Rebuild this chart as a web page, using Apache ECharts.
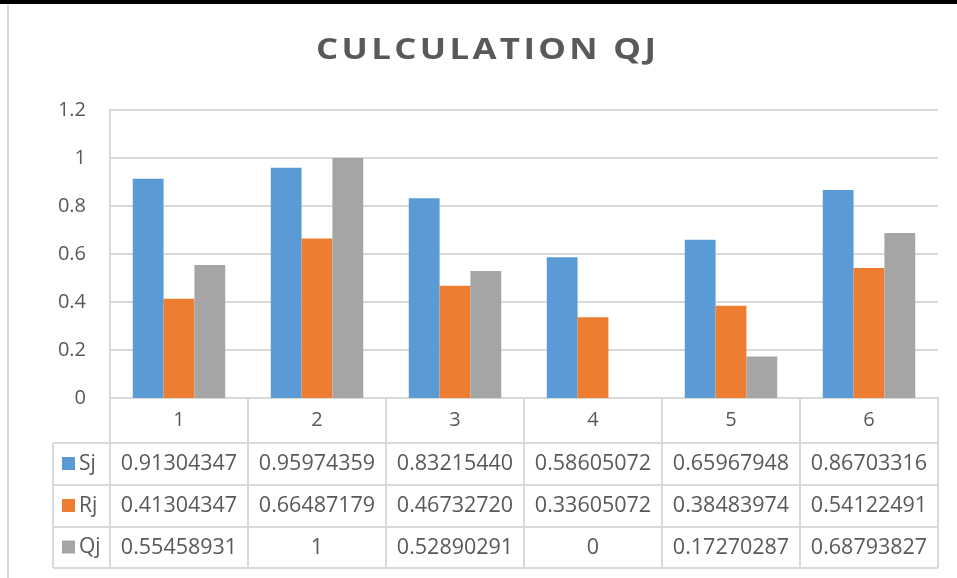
<!DOCTYPE html>
<html><head><meta charset="utf-8">
<script src="https://cdn.jsdelivr.net/npm/echarts@6/dist/echarts.min.js"></script>
<style>html,body{margin:0;padding:0;background:#fff}#c{width:957px;height:578px}</style>
</head><body><div id="c"></div>
<script>
const titleText = 'CULCULATION QJ';
const categories = ['1','2','3','4','5','6'];
const seriesNames = ['Sj','Rj','Qj'];
const sj = [0.91304347, 0.95974359, 0.83215440, 0.58605072, 0.65967948, 0.86703316];
const rj = [0.41304347, 0.66487179, 0.46732720, 0.33605072, 0.38483974, 0.54122491];
const qj = [0.55458931, 1, 0.52890291, 0, 0.17270287, 0.68793827];
const tableText = {
  Sj: ['0.91304347','0.95974359','0.83215440','0.58605072','0.65967948','0.86703316'],
  Rj: ['0.41304347','0.66487179','0.46732720','0.33605072','0.38483974','0.54122491'],
  Qj: ['0.55458931','1','0.52890291','0','0.17270287','0.68793827']
};
const colors = ['#5B9BD5','#ED7D31','#A5A5A5'];
const FONT = "'Open Sans', sans-serif";
const TXT = '#595959';
const LINE = '#d9d9d9';
// layout
const GL = 110, GR = 938, GT = 110, GB = 398;
const rowTops = [443, 485, 527, 568];
const keyLeft = 53;

const chart = echarts.init(document.getElementById('c'), null, {renderer:'canvas'});
const values = [sj, rj, qj];
chart.setOption({
  animation: false,
  backgroundColor: '#fff',
  grid: {left: GL, right: 957 - GR, top: GT, bottom: 578 - GB, containLabel: false},
  xAxis: {
    type: 'category', data: categories,
    axisLine: {show: true, lineStyle: {color: LINE, width: 2}},
    axisTick: {show: true, length: rowTops[3] - GB, lineStyle: {color: LINE, width: 2}},
    axisLabel: {fontFamily: FONT, fontSize: 20, color: TXT, margin: 12}
  },
  yAxis: {
    type: 'value', min: 0, max: 1.2, interval: 0.2,
    axisLine: {show: true, lineStyle: {color: LINE, width: 2}},
    axisTick: {show: false},
    splitLine: {lineStyle: {color: LINE, width: 2}},
    axisLabel: {fontFamily: FONT, fontSize: 20, color: TXT, margin: 24}
  },
  series: seriesNames.map((n, i) => ({
    name: n, type: 'bar', data: values[i], barGap: '0%', barCategoryGap: '33%',
    itemStyle: {color: colors[i]}
  }))
});

// table and frame via graphic
const g = [];
g.push({type:'rect', shape:{x:0,y:0,width:957,height:4}, style:{fill:'#000'}});
g.push({type:'line', shape:{x1:8,y1:4,x2:8,y2:578}, style:{stroke:LINE,lineWidth:2}});
// title with letter spacing via rich segments, slightly widened
const richTitle = titleText.split('').map(ch => '{s|' + ch + '}').join('');
g.push({type:'text', x: 486, y: 51, scaleX: 1.2, scaleY: 1, style:{
  text: richTitle, textAlign:'center', textVerticalAlign:'middle',
  rich: {s: {fontFamily: FONT, fontWeight:'bold', fontSize: 29, fill: TXT, padding:[0,1.4,0,1.4]}}
}});
rowTops.forEach(y => g.push({type:'line', shape:{x1:keyLeft,y1:y,x2:GR,y2:y}, style:{stroke:LINE,lineWidth:2}}));
g.push({type:'line', shape:{x1:keyLeft,y1:rowTops[0],x2:keyLeft,y2:rowTops[3]}, style:{stroke:LINE,lineWidth:2}});
seriesNames.forEach((n, r) => {
  const cy = (rowTops[r] + rowTops[r+1]) / 2;
  g.push({type:'rect', shape:{x:62,y:cy-7,width:13,height:13}, style:{fill:colors[r]}});
  g.push({type:'text', x:79, y:cy, style:{text:n, font:'21px ' + FONT, fill:TXT, textVerticalAlign:'middle', textAlign:'left'}});
  tableText[n].forEach((t, i) => {
    const cx = chart.convertToPixel({xAxisIndex:0}, i);
    g.push({type:'text', x:cx, y:cy, style:{text:t, font:'21.5px ' + FONT, fill:TXT, textAlign:'center', textVerticalAlign:'middle'}});
  });
});
chart.setOption({graphic: g});
</script></body></html>
